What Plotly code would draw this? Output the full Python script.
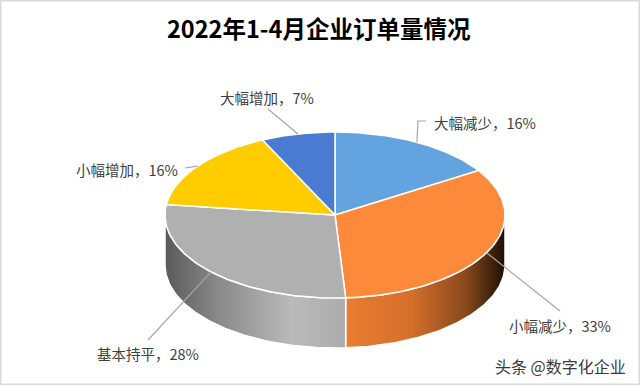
import numpy as np
import plotly.graph_objects as go

# ---- data ----
categories = ["大幅减少", "小幅减少", "基本持平", "小幅增加", "大幅增加"]
values = [16, 33, 28, 16, 7]
pct_labels = ["16%", "33%", "28%", "16%", "7%"]
title_text = "2022年1-4月企业订单量情况"
watermark = "头条 @数字化企业"

# ---- style / layout ----
top_colors = ["#62a3e0", "#fd8a3b", "#b0b0b0", "#ffcc00", "#4a7bd0"]
wall_scales = {
    1: [[0, "#e97c31"], [0.4, "#d5702b"], [0.75, "#8a4a1c"], [1, "#1e0f04"]],
    2: [[0, "#5a5a5a"], [0.3, "#8a8a8a"], [0.7, "#bababa"], [1, "#acacac"]],
}
CX, CY, A, B, DEPTH = 335, 215, 170, 83, 50
W, H = 640, 385
FONT = "Noto Sans CJK SC, Noto Sans, sans-serif"
# label text position (x, y, xanchor) and leader elbow points
label_pos = [
    (432, 122, "left", [(418, 121), (426, 121)]),
    (507, 325, "left", [(560, 311)]),
    (148, 353, "center", [(148, 340)]),
    (180, 169, "right", [(185, 168)]),
    (267, 97, "center", [(268, 109)]),
]


def pt(theta_deg, dy=0.0):
    t = np.radians(theta_deg)
    return CX + A * np.sin(t), CY - B * np.cos(t) + dy


total = sum(values)
bounds = np.concatenate([[0], np.cumsum(values) / total * 360])

fig = go.Figure()

# side walls (visible front half: 90..270 deg)
for i in range(len(values)):
    t1, t2 = max(bounds[i], 90), min(bounds[i + 1], 270)
    if t2 <= t1:
        continue
    th = np.linspace(t1, t2, 80)
    xs_top, ys_top = pt(th)
    xs_bot, ys_bot = pt(th[::-1], DEPTH)
    xs = np.concatenate([xs_top, xs_bot, xs_top[:1]])
    ys = np.concatenate([ys_top, ys_bot, ys_top[:1]])
    fig.add_trace(go.Scatter(
        x=xs, y=ys, mode="lines", fill="toself",
        line=dict(color="white", width=1.5),
        fillgradient=dict(type="horizontal", colorscale=wall_scales.get(i, [[0, top_colors[i]], [1, top_colors[i]]])),
        hoverinfo="skip", showlegend=False))

# top faces
for i in range(len(values)):
    th = np.linspace(bounds[i], bounds[i + 1], 120)
    ax, ay = pt(th)
    xs = np.concatenate([[CX], ax, [CX]])
    ys = np.concatenate([[CY], ay, [CY]])
    fig.add_trace(go.Scatter(
        x=xs, y=ys, mode="lines", fill="toself", fillcolor=top_colors[i],
        line=dict(color="white", width=1.5),
        name=categories[i], hoverinfo="name", showlegend=False))

# leader lines + labels
annotations = []
for i in range(len(values)):
    mid = (bounds[i] + bounds[i + 1]) / 2
    ax0, ay0 = pt(mid)
    lx, ly, anchor, elbows = label_pos[i]
    xs = [ax0] + [e[0] for e in elbows]
    ys = [ay0] + [e[1] for e in elbows]
    fig.add_trace(go.Scatter(x=xs, y=ys, mode="lines",
                             line=dict(color="#a6a6a6", width=1.2),
                             hoverinfo="skip", showlegend=False))
    annotations.append(dict(
        x=lx, y=ly, xref="x", yref="y", xanchor=anchor, yanchor="middle",
        text=f"{categories[i]}，{pct_labels[i]}", showarrow=False,
        font=dict(family=FONT, size=14.5, color="#404040")))

annotations.append(dict(
    x=319, y=28, xref="x", yref="y", xanchor="center", yanchor="middle",
    text=f"<b>{title_text}</b>", showarrow=False,
    font=dict(family=FONT, size=23.5, color="#000000")))
annotations.append(dict(
    x=628, y=366, xref="x", yref="y", xanchor="right", yanchor="middle",
    text=watermark, showarrow=False,
    font=dict(family=FONT, size=16, color="#3a3a3a")))

fig.update_layout(
    width=W, height=H, margin=dict(l=0, r=0, t=0, b=0),
    paper_bgcolor="white", plot_bgcolor="white",
    xaxis=dict(range=[0, W], visible=False, fixedrange=True),
    yaxis=dict(range=[H, 0], visible=False, fixedrange=True),
    annotations=annotations,
    shapes=[dict(type="rect", xref="paper", yref="paper", x0=0, y0=0, x1=1, y1=1,
                 line=dict(color="#d9d9d9", width=3))],
)

fig.write_html("out.html", config={"displayModeBar": False},
               post_script="document.body.style.margin='0';document.body.style.overflow='hidden';")
